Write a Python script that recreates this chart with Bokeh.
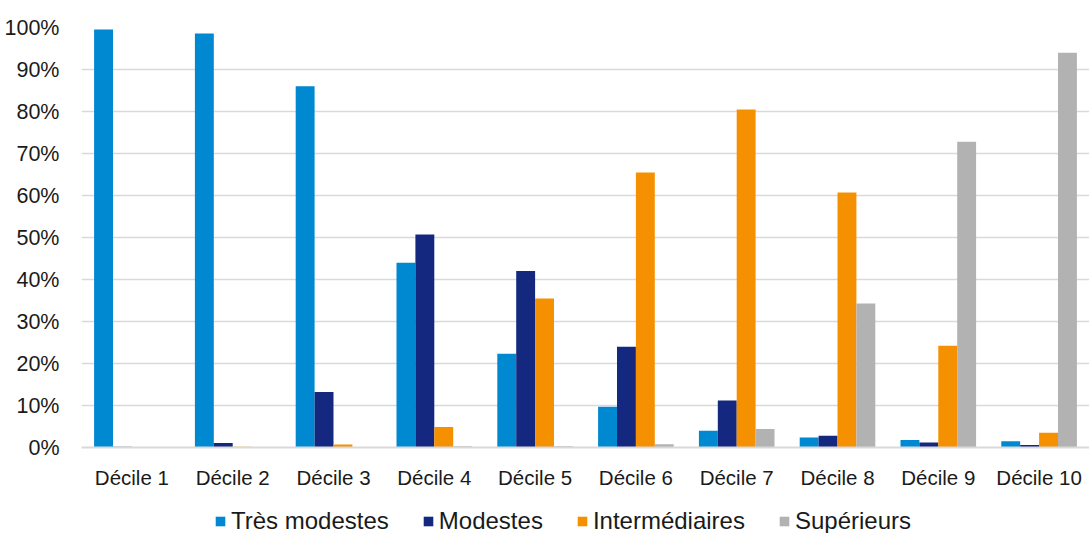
from bokeh.plotting import figure
from bokeh.layouts import column
from bokeh.models import ColumnDataSource, FactorRange, Range1d, Legend, LegendItem, PrintfTickFormatter, FixedTicker
from bokeh.transform import dodge
from bokeh.embed import file_html
from bokeh.resources import INLINE

deciles = ["Décile 1", "Décile 2", "Décile 3", "Décile 4", "Décile 5",
           "Décile 6", "Décile 7", "Décile 8", "Décile 9", "Décile 10"]
tres_modestes = [99.5, 98.6, 86.0, 44.0, 22.3, 9.7, 4.0, 2.4, 1.8, 1.5]
modestes = [0.2, 1.1, 13.2, 50.7, 42.0, 24.0, 11.2, 2.8, 1.2, 0.6]
intermediaires = [0.1, 0.2, 0.7, 4.9, 35.5, 65.5, 80.5, 60.7, 24.2, 3.5]
superieurs = [0.0, 0.0, 0.1, 0.3, 0.3, 0.8, 4.4, 34.3, 72.8, 94.0]
series_names = ["Très modestes", "Modestes", "Intermédiaires", "Supérieurs"]
colors = ["#0088d1", "#15287f", "#f59100", "#b2b2b2"]
y_ticks = [0, 10, 20, 30, 40, 50, 60, 70, 80, 90, 100]

src = ColumnDataSource(dict(x=deciles, tm=tres_modestes, m=modestes,
                            i=intermediaires, s=superieurs))

p = figure(x_range=FactorRange(*deciles, range_padding=0), y_range=Range1d(0, 100),
           width=1089, height=493, output_backend="svg", toolbar_location=None,
           min_border_top=27, min_border_left=81, min_border_right=0, min_border_bottom=46)
p.outline_line_color = None

bw = 0.1875
offsets = [-1.5 * bw, -0.5 * bw, 0.5 * bw, 1.5 * bw]
for col, off, c in zip(["tm", "m", "i", "s"], offsets, colors):
    p.vbar(x=dodge("x", off, range=p.x_range), top=col, width=bw, source=src,
           fill_color=c, line_color=None)

font = "Liberation Sans"
p.yaxis.ticker = FixedTicker(ticks=y_ticks)
p.yaxis.formatter = PrintfTickFormatter(format="%d%%")
p.yaxis.axis_line_color = None
p.yaxis.major_tick_line_color = None
p.yaxis.minor_tick_line_color = None
p.yaxis.major_label_standoff = 16
p.yaxis.major_label_text_font = font
p.yaxis.major_label_text_font_size = "21.5px"
p.yaxis.major_label_text_color = "#1a1a1a"

p.xaxis.axis_line_color = "#d9d9d9"
p.xaxis.axis_line_width = 2
p.xaxis.major_tick_line_color = None
p.xaxis.minor_tick_line_color = None
p.xaxis.major_label_standoff = 12
p.xaxis.major_label_text_font = font
p.xaxis.major_label_text_font_size = "20.5px"
p.xaxis.major_label_text_color = "#1a1a1a"

p.xgrid.grid_line_color = None
p.ygrid.grid_line_color = "#d9d9d9"
p.ygrid.grid_line_width = 1.5

# legend strip below the chart
pl = figure(width=1089, height=40, output_backend="svg", toolbar_location=None,
            x_axis_location=None, y_axis_location=None,
            x_range=Range1d(0, 1), y_range=Range1d(0, 1),
            min_border_top=0, min_border_left=81, min_border_right=0, min_border_bottom=0)
pl.outline_line_color = None
pl.xgrid.grid_line_color = None
pl.ygrid.grid_line_color = None
items = []
for c, name in zip(colors, series_names):
    dummy = ColumnDataSource(dict(x=[-10.0], top=[-10.0]))
    r = pl.vbar(x="x", top="top", bottom=-11.0, width=0.1, source=dummy,
                fill_color=c, line_color=None)
    items.append(LegendItem(label=name, renderers=[r], index=0))

legend = Legend(items=items, orientation="horizontal", location=(133, -2),
                glyph_width=12, glyph_height=12, label_standoff=5, spacing=33,
                label_text_font=font, label_text_font_size="24px",
                label_text_color="#1a1a1a", border_line_color=None,
                background_fill_alpha=0, margin=0, padding=1)
pl.add_layout(legend, "center")

open("out.html", "w").write(file_html(column(p, pl, spacing=0), INLINE))
